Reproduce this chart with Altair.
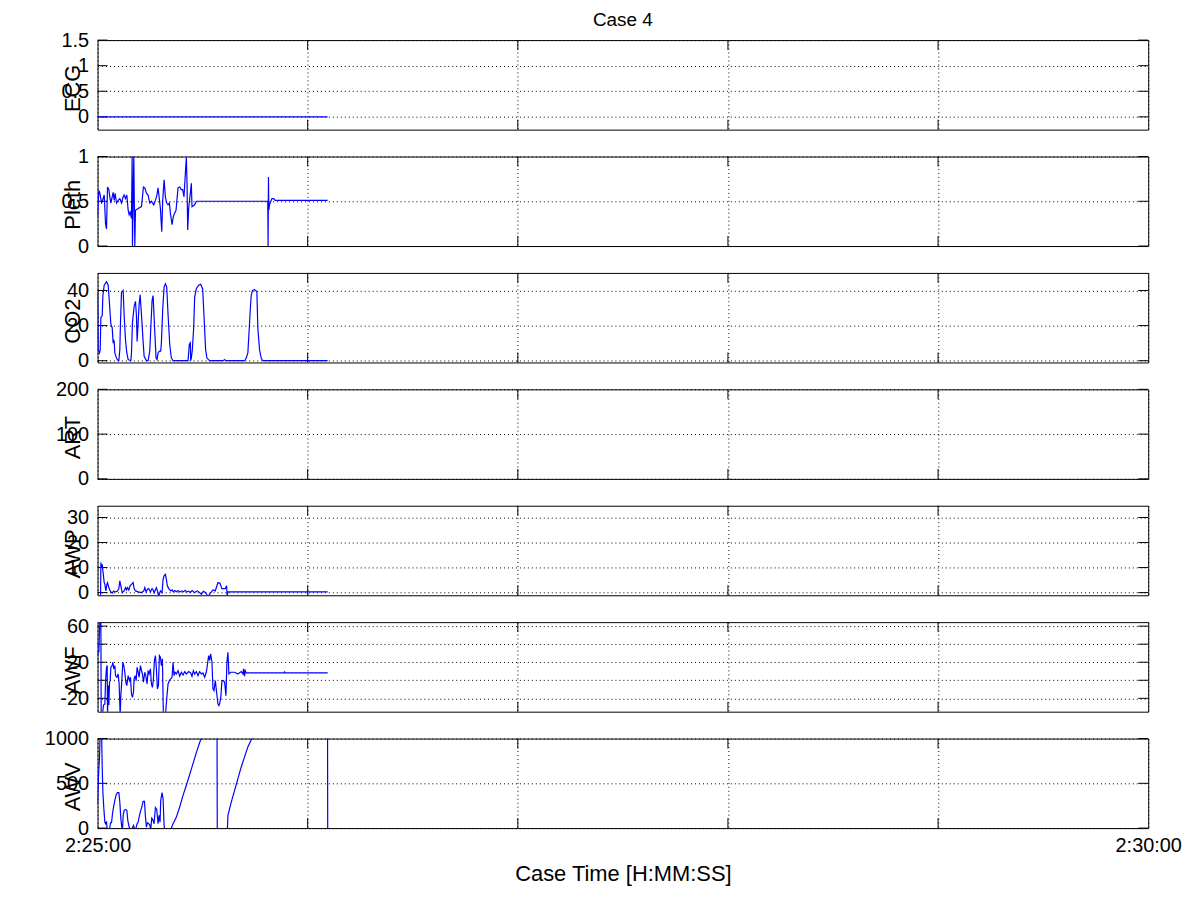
import altair as alt
import pandas as pd

FONT = "Liberation Sans"
W, H = 1056, 90

# x positions in seconds after 2:25:00
minutes = [0, 60, 120, 180, 240, 300]
inner_minutes = [60, 120, 180, 240]

ecg = [(0.0, 0.0), (65.7, 0.0)]

pleth = [(0.0, 0.33), (0.38, 0.62), (0.66, 0.59), (1.14, 0.485), (1.61, 0.53), (1.9, 0.57),
         (2.28, 0.25), (2.56, 0.19), (2.75, 0.51), (2.85, 0.66), (3.23, 0.63), (3.51, 0.55),
         (3.8, 0.48), (4.18, 0.55), (4.46, 0.60), (4.75, 0.51), (5.03, 0.59), (5.41, 0.48),
         (5.89, 0.51), (6.36, 0.53), (6.84, 0.48), (7.31, 0.55), (7.6, 0.57), (7.98, 0.53),
         (8.36, 0.57), (8.74, 0.40), (9.02, 0.35), (9.31, 0.38), (9.69, 0.31), (9.88, 1.0),
         (9.97, 0.0), (10.35, 1.0), (10.64, 0.0), (10.83, 0.40), (11.59, 0.42), (12.54, 0.44),
         (13.1, 0.66), (13.49, 0.65), (13.96, 0.59), (14.43, 0.57), (14.91, 0.48), (15.38, 0.50),
         (16.05, 0.46), (16.52, 0.51), (16.9, 0.56), (17.28, 0.65), (17.57, 0.55), (17.95, 0.42),
         (18.33, 0.16), (18.61, 0.51), (19.0, 0.74), (19.37, 0.55), (19.75, 0.48), (20.13, 0.46),
         (20.51, 0.48), (20.8, 0.37), (21.27, 0.24), (21.65, 0.33), (22.03, 0.37), (22.41, 0.40),
         (22.98, 0.65), (23.46, 0.66), (23.93, 0.63), (24.31, 0.63), (24.69, 0.55), (25.07, 0.81),
         (25.36, 0.99), (25.55, 0.70), (25.74, 0.18), (26.02, 0.42), (26.78, 0.70), (26.97, 0.44),
         (27.73, 0.46), (28.2, 0.50), (48.6, 0.50), (48.7, 0.0), (48.8, 0.77), (48.9, 0.40),
         (49.1, 0.46), (49.8, 0.53), (50.3, 0.53), (50.7, 0.51), (65.7, 0.51)]

co2 = [(0, 39), (0.19, 6.3), (0.57, 4.4), (0.76, 6.3), (0.95, 24.6), (1.33, 25.6), (1.52, 37),
       (1.9, 43), (2.56, 45), (3.04, 43), (3.42, 32), (3.8, 20.8), (4.18, 18.8), (4.46, 10),
       (4.56, 12), (4.75, 11), (4.94, 4.4), (5.41, 1.5), (5.89, 0), (6.08, 0), (6.36, 6.3),
       (6.55, 21.7), (6.84, 39), (7.31, 40), (7.6, 25.6), (7.98, 12), (8.36, 4.4), (8.74, 0.6),
       (9.5, 0), (9.69, 4.4), (9.97, 21.7), (10.45, 31), (10.83, 33.8), (11.11, 25.6), (11.3, 11),
       (11.59, 21.7), (11.87, 32), (12.16, 37.5), (12.54, 26.5), (13.01, 11), (13.3, 2.5),
       (13.96, 0), (14.43, 0), (14.91, 5.4), (15.19, 17.9), (15.57, 34.2), (15.86, 37.1),
       (16.33, 16.9), (16.71, 1.5), (17.0, 0.6), (17.28, 4.4), (17.66, 5.4), (18.04, 5.4),
       (18.23, 10.2), (18.61, 29.4), (19.0, 41.9), (19.37, 43.8), (19.75, 41.9), (20.13, 26.5),
       (20.61, 9.2), (21.08, 1.5), (21.56, 0), (25.83, 0), (26.21, 9.2), (26.5, 10.2), (26.59, 0),
       (26.78, 1.5), (27.07, 6.3), (27.45, 18.8), (27.73, 36.2), (28.2, 41), (28.87, 43),
       (29.44, 43.5), (30.01, 41), (30.39, 25.6), (30.86, 6.3), (31.24, 1.5), (32.0, 0),
       (35.8, 0), (36.28, 0.6), (36.75, 0), (41.98, 0), (42.45, 1.5), (42.92, 4.4), (43.3, 17.9),
       (43.59, 28.5), (43.87, 37.1), (44.25, 40), (44.82, 40.4), (45.49, 39.4), (45.77, 18.8),
       (46.25, 6.3), (46.72, 1.5), (47.2, 0), (65.7, 0)]

art = []

awp = [(0, -3), (0.85, -3), (0.95, 12), (1.14, 10), (1.33, 11.3), (1.9, 4), (2.09, 3.3),
       (2.37, 0.67), (2.66, 3.3), (2.85, 4), (3.23, 2), (3.61, 0.67), (4.18, -0.27), (4.56, 0.67),
       (5.13, 0.27), (5.7, 0.67), (6.08, 1.6), (6.36, 4.7), (6.65, 2.7), (7.03, 0), (7.6, 0.67),
       (7.98, 2), (8.26, 1.07), (8.55, 2), (8.93, 1.07), (9.31, 2.7), (9.69, 3.3), (10.16, 4),
       (10.45, 1.6), (10.83, 0.67), (11.59, 0.27), (12.54, 0), (13.2, 0.67), (13.49, 2),
       (13.87, 0.27), (14.25, 1.33), (14.62, 1.6), (15.1, 0.27), (15.57, 1.6), (15.86, 1.07),
       (16.14, 0), (16.81, 2), (17.09, 0.67), (17.47, -1.5), (17.95, 0.67), (18.42, 0),
       (18.71, 5.3), (19.0, 6.7), (19.37, 7.3), (19.56, 6), (19.94, 2.7), (20.32, 1.6),
       (20.89, 0.67), (21.27, 1.07), (21.65, 0.27), (22.03, 0.8), (22.5, 0.3), (23.0, 0.8),
       (23.5, 0.2), (24.0, 0.7), (24.5, 0.3), (25.0, 0.9), (25.5, 0.2), (26.0, 0.6), (26.5, 0.1),
       (27.0, 0.8), (27.73, 0), (28.5, 0.7), (29.0, 0.2), (29.63, -0.67), (30.2, 0.5), (30.8, 0.1),
       (31.53, -1.5), (32.95, 1.07), (33.62, 0.67), (34.38, 4), (34.95, 3.7), (35.52, 1.6),
       (36.47, 1.6), (36.85, 2.7), (37.0, -1.5), (37.23, 0.27), (38.18, 0.27), (41.98, 0.27),
       (65.7, 0.27)]

awf = [(0, 27.4), (0.19, 33), (0.38, 31), (0.57, 57), (0.76, 70), (0.95, 70), (1.04, -40),
       (1.33, -40), (1.71, -27.4), (2.09, -26.3), (2.28, -2.2), (2.56, 14.4), (2.75, 16.3),
       (2.85, -40), (3.04, -5.9), (3.23, -27.4), (3.42, -2.2), (3.61, -0.4), (3.8, 14.4),
       (4.18, 16.3), (4.37, 20), (4.65, 12.6), (4.94, 16.3), (5.13, 5.2), (5.51, 3.3), (5.89, 7),
       (6.17, -4.1), (6.46, -40), (6.65, -17), (6.84, -5.9), (7.22, 20), (7.5, 16.3), (7.79, 8.9),
       (8.07, -2.2), (8.36, -5.9), (8.74, 5.2), (9.12, -0.4), (9.4, 3.3), (9.69, -15.2),
       (9.97, -18.9), (10.26, -13.3), (10.45, 1.5), (10.73, 5.2), (11.02, -0.4), (11.3, 14.4),
       (11.59, 8.9), (11.87, 3.3), (12.25, 16.3), (12.54, 10.7), (12.82, 7), (13.11, -2.2),
       (13.49, 8.9), (13.77, 5.2), (14.15, -4.1), (14.43, 10.7), (14.72, 7), (15.1, 12.6),
       (15.38, -4.1), (15.67, -7.8), (15.95, 1.5), (16.24, 21.9), (16.52, 27.4), (16.81, 12.6),
       (17.09, -9.6), (17.38, -5.9), (17.66, 27.4), (17.95, 25.6), (18.23, 16.3), (18.52, 23.7),
       (18.8, -40), (19.37, -40), (19.75, -20.7), (20.13, -4.1), (20.51, -0.4), (20.89, 1.5),
       (21.27, 3.3), (21.56, 20), (21.84, 5.2), (22.13, 8.9), (22.51, 7), (22.98, 10.7),
       (23.46, 4.4), (23.93, 8.9), (24.41, 5.9), (24.88, 9.6), (25.36, 7), (26.02, 9.6),
       (26.59, 8.1), (26.97, 4.4), (27.35, 10.7), (27.73, 7), (28.21, 9.6), (28.68, 5.2),
       (29.15, 9.6), (29.63, 7), (30.1, 8.1), (30.58, 3.3), (31.05, 8.9), (31.34, 16.3),
       (31.72, 27.4), (32.0, 21.9), (32.29, 29.3), (32.67, 20), (32.95, -9.6), (33.24, -11.5),
       (33.62, -0.4), (34.0, -13.3), (34.38, -26.3), (34.66, -28.1), (34.95, -24.4), (35.23, -17),
       (35.52, -0.4), (35.9, -0.4), (36.28, -2.2), (36.66, -17), (36.94, 20), (37.23, 31.1),
       (37.51, 7), (37.99, 8.9), (39.13, 8.9), (40.08, 7), (41.03, 9.6), (41.5, 7), (41.69, 12.6),
       (41.98, 4.4), (42.17, 10.7), (42.45, 8.1), (53.3, 8.1), (53.4, 9.8), (53.5, 8.1),
       (65.72, 8.1)]

awv = [(0, 272), (0.28, 590), (0.57, 795), (0.76, 1100), (1.14, 1100), (1.33, 683), (1.52, 403),
       (1.8, 216), (2.09, 67), (2.28, 49), (2.56, 75), (2.75, -20), (3.42, -20), (3.7, 60),
       (3.99, 60), (4.27, 160), (4.56, 235), (4.94, 310), (5.32, 373), (5.7, 396), (6.08, 396),
       (6.36, 291), (6.65, 104), (6.93, 11), (7.12, -20), (7.31, 142), (7.6, 198), (7.98, 209),
       (8.36, 198), (8.64, 86), (8.93, 30), (9.21, -20), (9.69, -20), (10.26, 30), (10.64, -20),
       (11.02, 7), (11.3, 49), (11.59, 67), (11.87, 123), (12.25, 187), (12.63, 235), (13.01, 299),
       (13.39, 299), (13.68, 123), (13.96, 11), (14.25, 60), (14.62, 49), (14.91, 37), (15.19, -20),
       (15.48, 112), (15.76, 97), (16.14, 49), (16.52, 231), (16.9, 209), (17.28, 49), (17.57, 142),
       (17.85, 67), (18.04, 310), (18.42, 396), (18.71, 328), (19.0, 30), (19.18, -20),
       (20.89, -20), (21.56, 49), (22.51, 123), (23.46, 235), (24.41, 366), (25.36, 478),
       (26.3, 597), (27.26, 720), (28.21, 843), (29.15, 955), (29.63, 1000), (34.09, 1500),
       (34.19, -50), (37.04, -50), (37.23, 142), (38.18, 291), (39.13, 422), (40.08, 552),
       (41.03, 683), (41.98, 795), (42.92, 907), (44.06, 1000), (65.62, 2500), (65.72, -100)]

panels = [
    ("ECG", ecg, [-0.25, 1.5], [0, 0.5, 1, 1.5]),
    ("Pleth", pleth, [0, 1], [0, 0.5, 1]),
    ("CO2", co2, [-1, 50], [0, 20, 40]),
    ("ART", art, [0, 200], [0, 100, 200]),
    ("AWP", awp, [-1.07, 34.7], [0, 10, 20, 30]),
    ("AWF", awf, [-34.8, 64.4], [-20, 0, 20, 40, 60]),
    ("AWV", awv, [0, 1000], [0, 500, 1000]),
]

x_label_expr = "datum.value == 0 ? '2:25:00' : (datum.value == 300 ? '2:30:00' : '')"


def make_panel(name, series, domain, ticks, bottom):
    xs = alt.Scale(domain=[0, 300], nice=False, zero=False)
    ys = alt.Scale(domain=domain, nice=False, zero=False)
    if bottom:
        xaxis = alt.Axis(values=minutes, grid=True, gridDash=[1, 3], gridColor="black",
                         gridOpacity=1, ticks=False, tickSize=0, domain=False,
                         labelExpr=x_label_expr, labelFlush=False, labelFont=FONT,
                         labelFontSize=20, labelColor="black", labelPadding=8,
                         title="Case Time [H:MM:SS]", titleFont=FONT, titleFontSize=22,
                         titleFontWeight="normal", titleColor="black", titlePadding=8)
    else:
        xaxis = alt.Axis(values=minutes, grid=True, gridDash=[1, 3], gridColor="black",
                         gridOpacity=1, ticks=False, tickSize=0, domain=False,
                         labels=False, title=None)
    yaxis = alt.Axis(values=ticks, grid=True, gridDash=[1, 3], gridColor="black",
                     gridOpacity=1, ticks=False, tickSize=0, domain=False,
                     labelExpr="'' + datum.value", labelFont=FONT, labelFontSize=20,
                     labelColor="black", labelPadding=9,
                     title=name, titleX=-25, titleY=H / 2 + 3, titleAngle=270,
                     titleAlign="center", titleBaseline="middle", titleFont=FONT,
                     titleFontSize=22, titleFontWeight="normal", titleColor="black")
    X = alt.X("t:Q", scale=xs, axis=xaxis)
    Y = alt.Y("v:Q", scale=ys, axis=yaxis)

    ytick_df = pd.DataFrame({"v": ticks})
    xtick_df = pd.DataFrame({"t": inner_minutes})
    layers = []
    layers.append(alt.Chart(ytick_df).mark_rule(color="black", strokeWidth=1).encode(
        y=Y, x=alt.value(0), x2=alt.value(10)))
    layers.append(alt.Chart(ytick_df).mark_rule(color="black", strokeWidth=1).encode(
        y=Y, x=alt.value(W - 10), x2=alt.value(W)))
    layers.append(alt.Chart(xtick_df).mark_rule(color="black", strokeWidth=1).encode(
        x=X, y=alt.value(0), y2=alt.value(10)))
    layers.append(alt.Chart(xtick_df).mark_rule(color="black", strokeWidth=1).encode(
        x=X, y=alt.value(H - 10), y2=alt.value(H)))
    if series:
        df = pd.DataFrame(series, columns=["t", "v"])
        layers.append(alt.Chart(df).mark_line(color="#0000ff", strokeWidth=1.2, clip=True,
                                               interpolate="linear").encode(x=X, y=Y))
    return alt.layer(*layers).properties(width=W, height=H)


charts = [make_panel(n, s, d, t, i == len(panels) - 1) for i, (n, s, d, t) in enumerate(panels)]

chart = alt.vconcat(*charts, spacing=27, bounds="flush").properties(
    title=alt.TitleParams(text="Case 4", font=FONT, fontSize=19, fontWeight="normal",
                          color="black", anchor="middle", frame="group", offset=0),
    padding={"left": 36, "top": 0, "right": 10, "bottom": 10},
).configure(background="white").configure_view(stroke="black", strokeWidth=1)

chart.save("out.html", embed_options={"renderer": "svg", "actions": False})
